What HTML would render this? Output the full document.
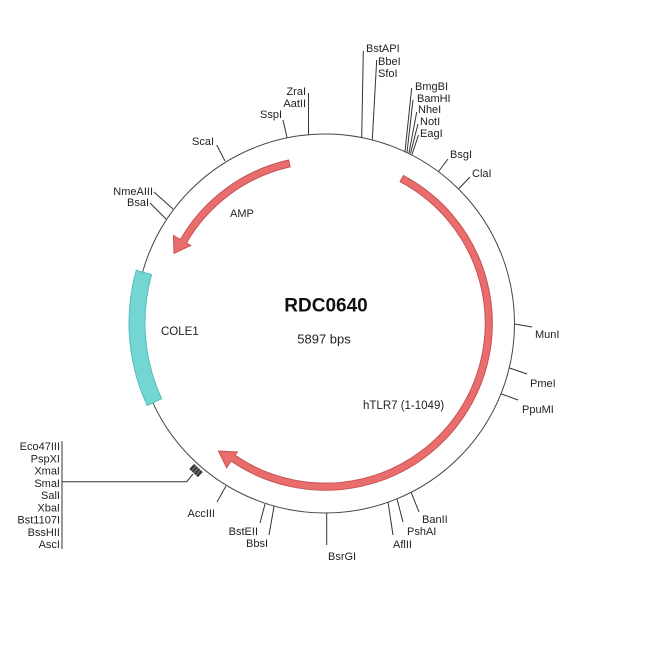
<!DOCTYPE html>
<html><head><meta charset="utf-8"><style>
html,body{margin:0;padding:0;background:#fff;}
svg{display:block;}
text{font-family:"Liberation Sans",Arial,sans-serif;fill:#222;}
.l{font-size:11px;}
</style></head><body>
<svg width="650" height="650" viewBox="0 0 650 650" xmlns="http://www.w3.org/2000/svg">
<rect width="650" height="650" fill="#fff"/>
<circle cx="325" cy="323.5" r="189.5" fill="none" stroke="#444" stroke-width="1"/>
<path d="M 136.2 270.3 A 196 196 0 0 0 147.2 405.5 L 161.7 398.8 A 180 180 0 0 1 151.6 274.6 Z" fill="#74d6d3" stroke="#55bdb9" stroke-width="1"/>
<path d="M 403.4 175.6 A 167 167 0 1 1 231.1 461.1 L 226.6 467.7 L 218.5 451 L 237.3 452.0 L 235.1 455.3 A 160 160 0 1 0 400.1 181.7 Z" fill="#ea6d6d" stroke="#c65252" stroke-width="1"/>
<path d="M 288.6 160.0 A 167 167 0 0 0 180.4 239.5 L 173.4 235.5 L 174 253.3 L 190.8 245.5 L 186.4 243 A 160 160 0 0 1 290.1 166.9 Z" fill="#ea6d6d" stroke="#c65252" stroke-width="1"/>
<g stroke="#333" stroke-width="1" fill="none">
<line x1="225" y1="161" x2="216.7" y2="145"/>
<line x1="287" y1="137.5" x2="283" y2="120"/>
<line x1="308.5" y1="135" x2="308.5" y2="93"/>
<line x1="361.7" y1="137.5" x2="363.3" y2="51"/>
<line x1="372.3" y1="139.5" x2="376.7" y2="60"/>
<line x1="405" y1="151.5" x2="411.7" y2="88"/>
<line x1="407" y1="152.5" x2="413" y2="100"/>
<line x1="409" y1="153" x2="416.7" y2="112"/>
<line x1="410.5" y1="153.5" x2="418" y2="124"/>
<line x1="412" y1="154.5" x2="418.5" y2="135"/>
<line x1="438.5" y1="171.5" x2="448" y2="159"/>
<line x1="459" y1="188.5" x2="470" y2="177"/>
<line x1="514.5" y1="324" x2="532" y2="327"/>
<line x1="509.5" y1="368" x2="527" y2="374"/>
<line x1="501.5" y1="394" x2="518" y2="400"/>
<line x1="411" y1="492" x2="419" y2="512"/>
<line x1="397" y1="499" x2="403" y2="522"/>
<line x1="388" y1="502" x2="393" y2="535"/>
<line x1="326.7" y1="513" x2="326.7" y2="545"/>
<line x1="274" y1="506.5" x2="269" y2="535"/>
<line x1="265" y1="504" x2="260" y2="523"/>
<line x1="226" y1="486" x2="217" y2="502"/>
<line x1="173" y1="209" x2="154" y2="192"/>
<line x1="166" y1="219" x2="150" y2="203"/>
<line x1="62" y1="441" x2="62" y2="549"/>
<polyline points="62,481.7 186.7,481.7 193,474"/>
</g>
<g transform="translate(196,470.5) rotate(43)">
<rect x="-6" y="-3.5" width="12" height="7" fill="#3a3a3a"/>
<line x1="-3" y1="-3.5" x2="-3" y2="3.5" stroke="#888" stroke-width="0.8"/>
<line x1="0" y1="-3.5" x2="0" y2="3.5" stroke="#888" stroke-width="0.8"/>
<line x1="3" y1="-3.5" x2="3" y2="3.5" stroke="#888" stroke-width="0.8"/>
</g>
<g class="l">
<text x="214" y="145" text-anchor="end">ScaI</text>
<text x="282" y="118" text-anchor="end">SspI</text>
<text x="306" y="95" text-anchor="end">ZraI</text>
<text x="306" y="107" text-anchor="end">AatII</text>
<text x="366" y="52">BstAPI</text>
<text x="378" y="65">BbeI</text>
<text x="378" y="77">SfoI</text>
<text x="415" y="90">BmgBI</text>
<text x="417" y="102">BamHI</text>
<text x="418" y="113">NheI</text>
<text x="420" y="125">NotI</text>
<text x="420" y="137">EagI</text>
<text x="450" y="158">BsgI</text>
<text x="472" y="177">ClaI</text>
<text x="535" y="338">MunI</text>
<text x="530" y="387">PmeI</text>
<text x="522" y="413">PpuMI</text>
<text x="422" y="523">BanII</text>
<text x="407" y="535">PshAI</text>
<text x="393" y="548">AflII</text>
<text x="328" y="560">BsrGI</text>
<text x="268" y="547" text-anchor="end">BbsI</text>
<text x="258" y="535" text-anchor="end">BstEII</text>
<text x="215" y="517" text-anchor="end">AccIII</text>
<text x="153" y="195" text-anchor="end">NmeAIII</text>
<text x="149" y="206" text-anchor="end">BsaI</text>
<text x="60" y="450" text-anchor="end">Eco47III</text>
<text x="60" y="462.25" text-anchor="end">PspXI</text>
<text x="60" y="474.5" text-anchor="end">XmaI</text>
<text x="60" y="486.75" text-anchor="end">SmaI</text>
<text x="60" y="499" text-anchor="end">SalI</text>
<text x="60" y="511.25" text-anchor="end">XbaI</text>
<text x="60" y="523.5" text-anchor="end">Bst1107I</text>
<text x="60" y="535.75" text-anchor="end">BssHII</text>
<text x="60" y="548" text-anchor="end">AscI</text>
</g>
<text x="326" y="311.7" text-anchor="middle" font-size="19" font-weight="bold" style="fill:#111">RDC0640</text>
<text x="324" y="343.5" text-anchor="middle" font-size="13">5897 bps</text>
<text x="161" y="335" font-size="11.5">COLE1</text>
<text x="230" y="217" font-size="11">AMP</text>
<text x="363" y="409" font-size="11.5">hTLR7 (1-1049)</text>
</svg>
</body></html>
